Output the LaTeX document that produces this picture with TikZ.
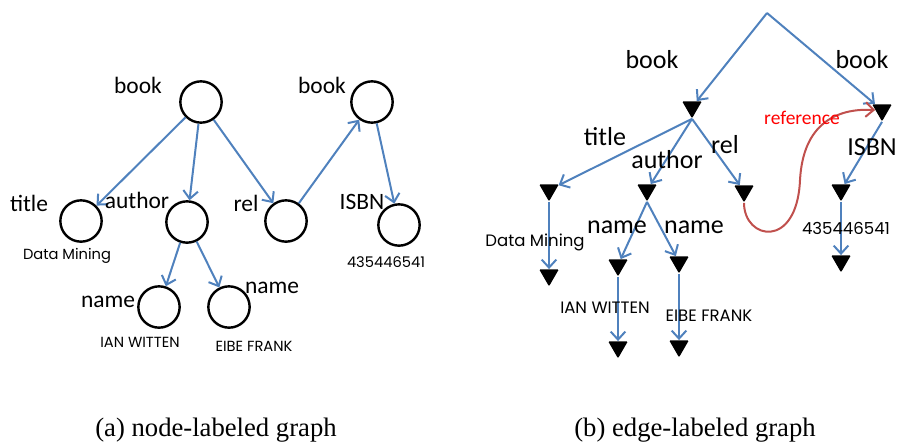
\documentclass[tikz,border=0pt]{standalone}
\usepackage{fontspec}
\setmainfont{Liberation Serif}
\newfontfamily\lblfont{Carlito}
\newfontfamily\valfont{Poppins}
\usetikzlibrary{arrows.meta,shapes.geometric}
\definecolor{edgeblue}{RGB}{79,129,189}
\definecolor{refred}{RGB}{192,80,77}

\begin{document}
\begin{tikzpicture}[x=0.75pt,y=0.75pt,yscale=-1,xscale=1,
	vert/.style={circle,draw,line width=1.8pt,minimum size=31pt,inner sep=0pt},
	tri/.style={regular polygon,regular polygon sides=3,shape border rotate=180,fill=black,minimum size=17pt,inner sep=0pt,rounded corners=0.8pt},
	link/.style={draw=edgeblue,line width=1.5pt,-{Straight Barb[length=6pt,width=11pt]}},
	tagA/.style={font=\lblfont\fontsize{17.6}{20}\selectfont,inner sep=0.75pt},
	tagB/.style={font=\lblfont\fontsize{19.5}{22}\selectfont,inner sep=0.75pt},
	valA/.style={font=\valfont\fontsize{11}{13}\selectfont,inner sep=0.75pt},
	valB/.style={font=\valfont\fontsize{12.4}{14}\selectfont,inner sep=0.75pt}]
	\useasboundingbox (0,0) rectangle (898,446);

	% (a) vertices carry the labels
	\node [vert] (bk1) at (201,102) {};
	\node [vert] (bk2) at (372,102) {};
	\node [vert] (ttl) at (81,221) {};
	\node [vert] (aut) at (187,222) {};
	\node [vert] (rel) at (286,221) {};
	\node [vert] (isb) at (399,225) {};
	\node [vert] (nm1) at (159,307) {};
	\node [vert] (nm2) at (229,307) {};
	\draw [link] (bk1) -- (ttl);
	\draw [link] (bk1) -- (aut);
	\draw [link] (bk1) -- (rel);
	\draw [link] (rel) -- (bk2);
	\draw [link] (bk2) -- (isb);
	\draw [link] (aut) -- (nm1);
	\draw [link] (aut) -- (nm2);
	\node [tagA] (lbk1) at (138,85) {book};
	\node [tagA] (lbk2) at (322,85) {book};
	\node [tagA] (lttl) at (29,203) {title};
	\node [tagA] (laut) at (137,200) {author};
	\node [tagA] (lrel) at (246,203) {rel};
	\node [tagA] (lisb) at (362,202) {ISBN};
	\node [tagA] (lnm1) at (108,302) {name};
	\node [tagA] (lnm2) at (272,288) {name};
	\node [valA] (vttl) at (67,256) {Data Mining};
	\node [valA] (visb) at (386,262) {435446541};
	\node [valA] (vnm1) at (140,342) {IAN WITTEN};
	\node [valA] (vnm2) at (254,346) {EIBE FRANK};

	% (b) edges carry the labels
	\coordinate (top) at (767,13);
	\node [tri] (e1) at (692,107) {};
	\node [tri] (e2) at (882,110) {};
	\node [tri] (e3) at (549,190) {};
	\node [tri] (e4) at (647,190) {};
	\node [tri] (e5) at (744,191) {};
	\node [tri] (e6) at (841,190) {};
	\node [tri] (e7) at (549,275) {};
	\node [tri] (e8) at (618,265) {};
	\node [tri] (e9) at (679,262) {};
	\node [tri] (e10) at (841,261) {};
	\node [tri] (e11) at (618,347) {};
	\node [tri] (e12) at (679,346) {};
	\draw [link] (top) -- (e1);
	\draw [link] (top) -- (e2);
	\draw [link] (e1.corner 1) -- (e3);
	\draw [link] (e1.corner 1) -- (e4);
	\draw [link] (e1.corner 1) -- (e5);
	\draw [link] (e2.corner 1) -- (e6);
	\draw [link] (e3.corner 1) -- (e7);
	\draw [link] (e4.corner 1) -- (e8);
	\draw [link] (e4.corner 1) -- (e9);
	\draw [link] (e6.corner 1) -- (e10);
	\draw [link] (e8.corner 1) -- (e11);
	\draw [link] (e9.corner 1) -- (e12);
	\draw [link,draw=refred] (e5.corner 1) .. controls (744,240) and (797,250) .. (800,180) .. controls (803,125) and (835,108) .. (e2.west);
	\node [tagB] (mbk1) at (652,60) {book};
	\node [tagB] (mbk2) at (862,60) {book};
	\node [tagB] (mttl) at (605,137) {title};
	\node [tagB] (maut) at (667,160) {author};
	\node [tagB] (mrel) at (725,145) {rel};
	\node [tagB] (misb) at (872,147) {ISBN};
	\node [tagB] (mnm1) at (617,227) {name};
	\node [tagB] (mnm2) at (694,227) {name};
	\node [font=\lblfont\fontsize{14.6}{17}\selectfont,text=red,inner sep=0.75pt] (mref) at (802,118) {reference};
	\node [valB] (wttl) at (535,242) {Data Mining};
	\node [valB] (wisb) at (846,228) {435446541};
	\node [valB] (wnm1) at (605,308) {IAN WITTEN};
	\node [valB] (wnm2) at (709,316) {EIBE FRANK};

	% captions
	\node [font=\fontsize{20}{24}\selectfont] (capa) at (216,430) {(a) node-labeled graph};
	\node [font=\fontsize{20}{24}\selectfont] (capb) at (695,430) {(b) edge-labeled graph};
\end{tikzpicture}
\end{document}
